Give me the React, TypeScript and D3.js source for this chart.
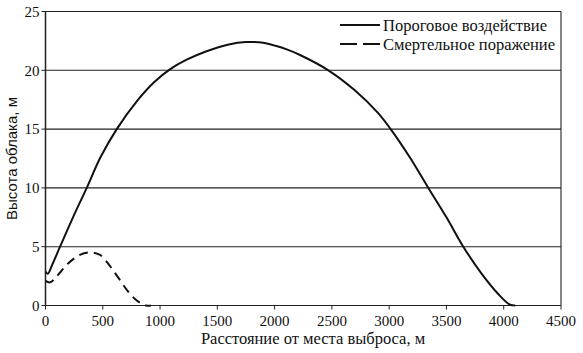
import React from "react";
import * as d3 from "d3";

// порог: расстояние (м) и высота облака (м)
const thresholdX = [0, 20, 60, 127, 240, 360, 480, 622, 800, 950, 1089, 1232, 1400, 1600, 1750, 1900, 2000, 2100, 2222, 2469, 2700, 2900, 3013, 3180, 3342, 3500, 3647, 3800, 3950, 4050, 4100];
const thresholdY = [2.9, 2.7, 3.5, 5, 7.5, 10, 12.6, 15, 17.4, 19.0, 20.1, 20.9, 21.6, 22.2, 22.4, 22.35, 22.1, 21.8, 21.3, 20, 18.3, 16.4, 15, 12.6, 10, 7.5, 5, 2.8, 1.0, 0.1, 0];

// смертельное поражение
const lethalX = [0, 40, 100, 200, 300, 388, 476, 560, 640, 720, 800, 880, 920];
const lethalY = [2.1, 1.97, 2.5, 3.6, 4.3, 4.52, 4.3, 3.4, 2.3, 1.2, 0.4, 0, 0];

const xTicks = [0, 500, 1000, 1500, 2000, 2500, 3000, 3500, 4000, 4500];
const yTicks = [0, 5, 10, 15, 20, 25];
const legendLabels = ["Пороговое воздействие", "Смертельное поражение"];

const serif = { fontFamily: "'Liberation Serif'" };
const sans = { fontFamily: "'Liberation Sans'" };

export default function App() {
  const width = 583, height = 353;
  const margin = { left: 45.5, right: 22, top: 11.5, bottom: 47.5 };
  const x = d3.scaleLinear().domain([0, 4500]).range([margin.left, width - margin.right]);
  const y = d3.scaleLinear().domain([0, 25]).range([height - margin.bottom, margin.top]);
  const line = d3.line<[number, number]>().x((d) => x(d[0])).y((d) => y(d[1])).curve(d3.curveCatmullRom.alpha(0.5));
  const solid = line(thresholdX.map((v, i) => [v, thresholdY[i]]));
  const dashed = line(lethalX.map((v, i) => [v, lethalY[i]]));

  return (
    <svg width={width} height={height} style={{ position: "absolute", left: 0, top: 0 }}>
      <rect width={width} height={height} fill="#fff" />
      {yTicks.map((t) => (
        <g key={t}>
          <line x1={x(0)} x2={x(4500)} y1={y(t)} y2={y(t)} stroke="#222" strokeWidth={1.1} />
          <line x1={x(0) - 4} x2={x(0)} y1={y(t)} y2={y(t)} stroke="#222" />
          <text x={x(0) - 6} y={y(t)} dy="0.35em" textAnchor="end" fontSize={15} fill="#111" style={serif}>{t}</text>
        </g>
      ))}
      {xTicks.map((t) => (
        <g key={t}>
          <line x1={x(t)} x2={x(t)} y1={y(0)} y2={y(0) + 4} stroke="#222" />
          <text x={x(t)} y={y(0) + 20} textAnchor="middle" fontSize={15} fill="#111" style={serif}>{t}</text>
        </g>
      ))}
      <line x1={x(0)} x2={x(0)} y1={y(0)} y2={y(25)} stroke="#222" strokeWidth={1.5} />
      <line x1={x(4500)} x2={x(4500)} y1={y(0)} y2={y(25)} stroke="#222" strokeWidth={1.1} />
      <path d={solid ?? ""} fill="none" stroke="#111" strokeWidth={2} />
      <path d={dashed ?? ""} fill="none" stroke="#111" strokeWidth={2} strokeDasharray="9,6" />
      <rect x={336} y={16} width={222} height={38} fill="#fff" />
      {legendLabels.map((l, i) => (
        <g key={l}>
          <line x1={340} x2={380} y1={25 + i * 19} y2={25 + i * 19} stroke="#111" strokeWidth={2} strokeDasharray={i === 1 ? "17,6" : undefined} />
          <text x={383} y={25 + i * 19} dy="0.35em" fontSize={16.5} fill="#111" style={serif}>{l}</text>
        </g>
      ))}
      <text x={313} y={344} textAnchor="middle" fontSize={16.5} fill="#111" style={serif}>Расстояние от места выброса, м</text>
      <text transform={`translate(17,${(y(0) + y(25)) / 2}) rotate(-90)`} textAnchor="middle" fontSize={15} fill="#111" style={sans}>Высота облака, м</text>
    </svg>
  );
}
